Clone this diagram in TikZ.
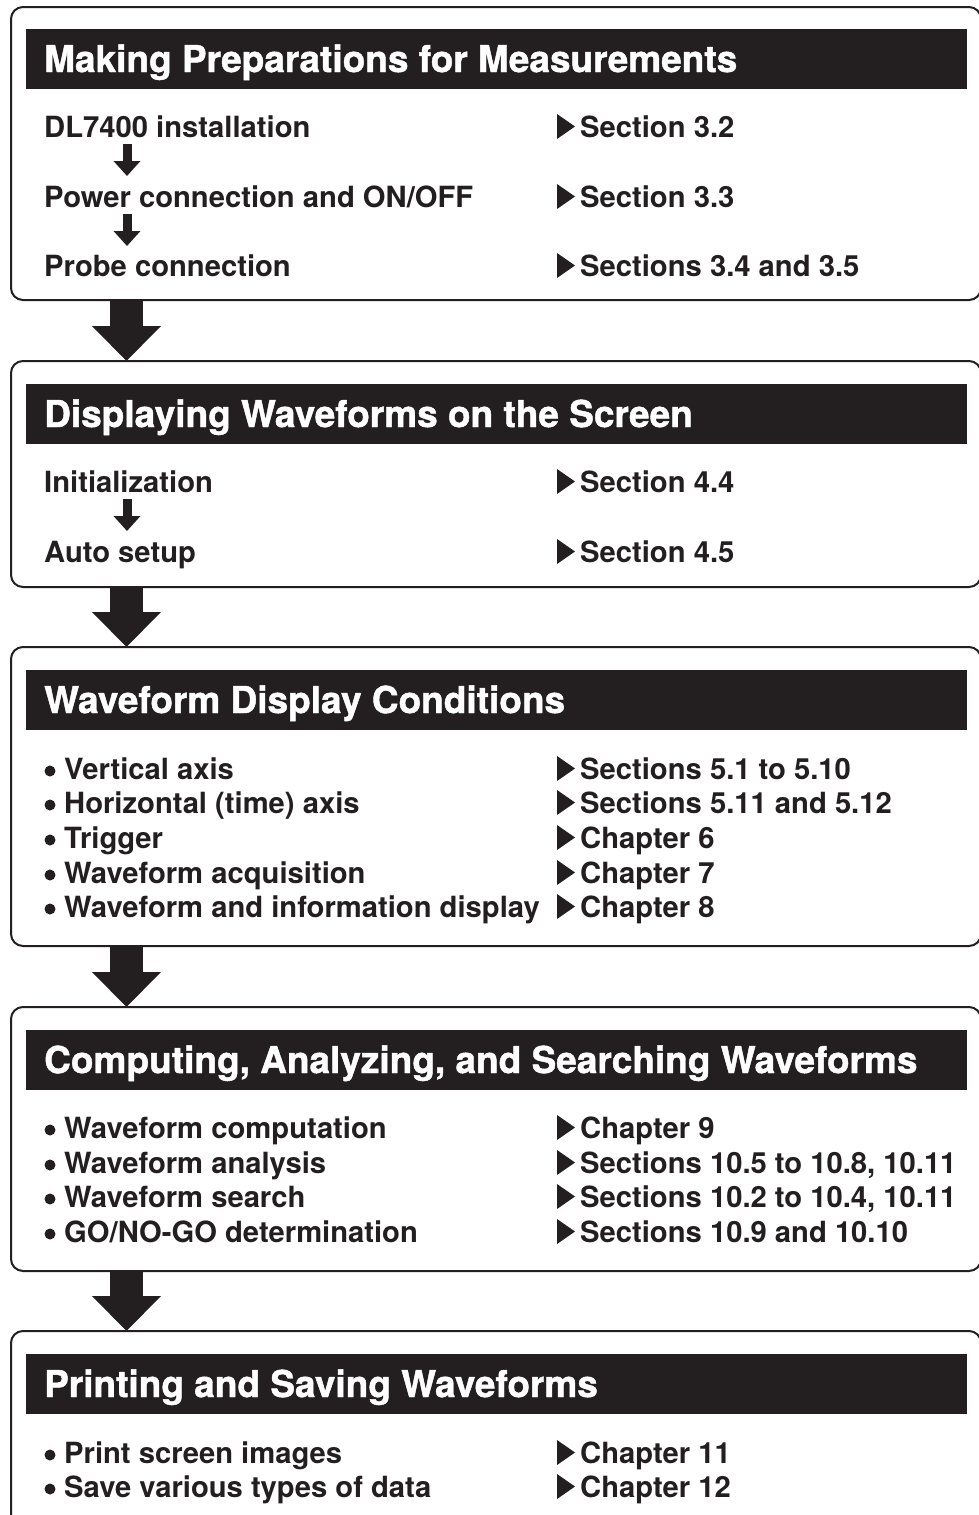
\documentclass[tikz,border=0pt]{standalone}
\usepackage{fontspec}
\setmainfont{TeX Gyre Heros}
\newfontfamily\hdrfont[FakeBold=1.2]{TeX Gyre Heros Bold}
\usetikzlibrary{arrows.meta}
\definecolor{ink}{HTML}{231F20}
\tikzset{
  panel/.style={draw=ink, line width=2pt, rounded corners=12pt, fill=white, inner sep=0pt, outer sep=0pt, anchor=north west, minimum width=970pt},
  hdrbar/.style={fill=ink, inner sep=0pt, outer sep=0pt, anchor=north west, minimum width=941pt, minimum height=60pt},
  hdrtext/.style={anchor=base west, inner sep=0pt, text=white, font=\hdrfont\fontsize{37}{37}\selectfont},
  itemtext/.style={anchor=base west, inner sep=0pt, text=ink, font=\bfseries\fontsize{29.2}{29.2}\selectfont},
  bigarrow/.style={draw=ink, line width=33pt, -{Triangle[width=67pt,length=35pt]}, shorten <=0pt},
  smallarrow/.style={draw=ink, line width=9pt, -{Triangle[width=26pt,length=15pt]}},
}
\newcommand{\mk}[1]{\fill[ink] (557,#1-23) -- (575,#1-10.5) -- (557,#1+2) -- cycle;}
\newcommand{\bu}[1]{\fill[ink] (50,#1-8) circle (5.5pt);}
\begin{document}
\begin{tikzpicture}[x=1pt,y=-1pt]
\useasboundingbox (0,0) rectangle (979,1515);
\coordinate (ax) at (126.5,0);
\coordinate (sx) at (127,0);
\begin{scope}
\clip (0,0) rectangle (979,1515);
% panels
\node[panel, minimum height=293pt] (b1) at (11,7) {};
\node[panel, minimum height=226pt] (b2) at (11,361) {};
\node[panel, minimum height=299pt] (b3) at (11,647) {};
\node[panel, minimum height=264pt] (b4) at (11,1007) {};
\node[panel, minimum height=220pt] (b5) at (11,1331) {};
% headers
\node[hdrbar] (h1) at (26,29) {};
\node[hdrbar] (h2) at (26,384) {};
\node[hdrbar] (h3) at (26,670) {};
\node[hdrbar] (h4) at (26,1030) {};
\node[hdrbar] (h5) at (26,1354) {};
\end{scope}
\node[hdrtext] (t1) at (44,72) {Making Preparations for Measurements};
\node[hdrtext] (t2) at (44,427) {Displaying Waveforms on the Screen};
\node[hdrtext] (t3) at (44,713) {Waveform Display Conditions};
\node[hdrtext] (t4) at (44,1073) {Computing, Analyzing, and Searching Waveforms};
\node[hdrtext] (t5) at (44,1397) {Printing and Saving Waveforms};
% big arrows
\draw[bigarrow] (b1.south -| ax) -- (b2.north -| ax);
\draw[bigarrow] (b2.south -| ax) -- (b3.north -| ax);
\draw[bigarrow] (b3.south -| ax) -- (b4.north -| ax);
\draw[bigarrow] (b4.south -| ax) -- (b5.north -| ax);
% box 1
\node[itemtext] (a1) at (44,137) {DL7400 installation};
\node[itemtext] (a2) at (44,207) {Power connection and ON/OFF};
\node[itemtext] (a3) at (44,276) {Probe connection};
\node[itemtext] (r11) at (580,137) {Section 3.2};
\node[itemtext] (r12) at (580,207) {Section 3.3};
\node[itemtext] (r13) at (580,276) {Sections 3.4 and 3.5};
\mk{137}\mk{207}\mk{276}
\draw[smallarrow] ([yshift=-7pt]a1.base -| sx) -- ([yshift=31pt]a2.base -| sx);
\draw[smallarrow] ([yshift=-7pt]a2.base -| sx) -- ([yshift=30pt]a3.base -| sx);
% box 2
\node[itemtext] (c1) at (44,492) {Initialization};
\node[itemtext] (c2) at (44,562) {Auto setup};
\node[itemtext] (r21) at (580,492) {Section 4.4};
\node[itemtext] (r22) at (580,562) {Section 4.5};
\mk{492}\mk{562}
\draw[smallarrow] ([yshift=-7pt]c1.base -| sx) -- ([yshift=31pt]c2.base -| sx);
% box 3
\node[itemtext] (d1) at (64,779) {Vertical axis};
\node[itemtext] (d2) at (64,813) {Horizontal (time) axis};
\node[itemtext] (d3) at (64,848) {Trigger};
\node[itemtext] (d4) at (64,883) {Waveform acquisition};
\node[itemtext] (d5) at (64,917) {Waveform and information display};
\node[itemtext] (r31) at (580,779) {Sections 5.1 to 5.10};
\node[itemtext] (r32) at (580,813) {Sections 5.11 and 5.12};
\node[itemtext] (r33) at (580,848) {Chapter 6};
\node[itemtext] (r34) at (580,883) {Chapter 7};
\node[itemtext] (r35) at (580,917) {Chapter 8};
\bu{779}\bu{813}\bu{848}\bu{883}\bu{917}
\mk{779}\mk{813}\mk{848}\mk{883}\mk{917}
% box 4
\node[itemtext] (e1) at (64,1138) {Waveform computation};
\node[itemtext] (e2) at (64,1173) {Waveform analysis};
\node[itemtext] (e3) at (64,1207) {Waveform search};
\node[itemtext] (e4) at (64,1242) {GO/NO-GO determination};
\node[itemtext] (r41) at (580,1138) {Chapter 9};
\node[itemtext] (r42) at (580,1173) {Sections 10.5 to 10.8, 10.11};
\node[itemtext] (r43) at (580,1207) {Sections 10.2 to 10.4, 10.11};
\node[itemtext] (r44) at (580,1242) {Sections 10.9 and 10.10};
\bu{1138}\bu{1173}\bu{1207}\bu{1242}
\mk{1138}\mk{1173}\mk{1207}\mk{1242}
% box 5
\node[itemtext] (f1) at (64,1463) {Print screen images};
\node[itemtext] (f2) at (64,1497) {Save various types of data};
\node[itemtext] (r51) at (580,1463) {Chapter 11};
\node[itemtext] (r52) at (580,1497) {Chapter 12};
\bu{1463}\bu{1497}
\mk{1463}\mk{1497}
\end{tikzpicture}
\end{document}
